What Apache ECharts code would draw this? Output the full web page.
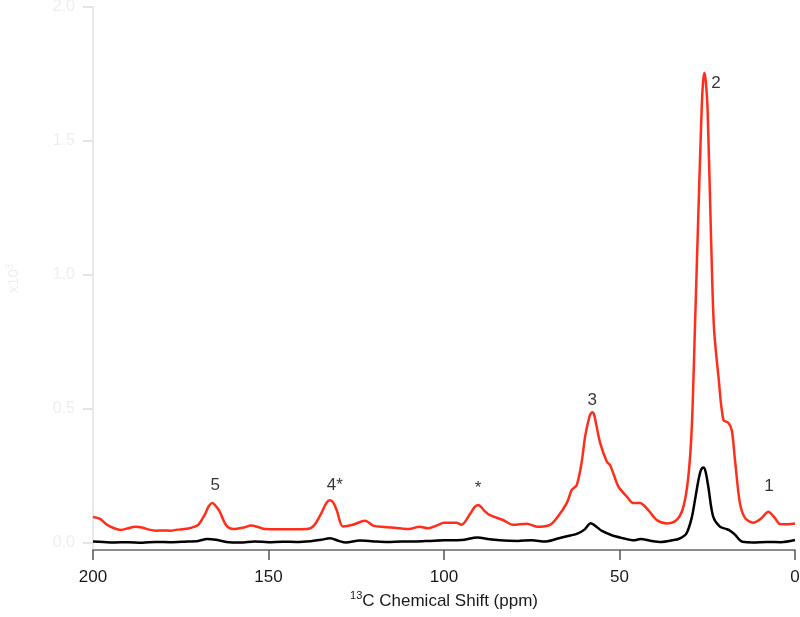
<!DOCTYPE html>
<html>
<head>
<meta charset="utf-8">
<script src="https://cdn.jsdelivr.net/npm/echarts@6/dist/echarts.min.js"></script>
<style>
  html, body { margin: 0; padding: 0; background: #fff; }
  #chart { width: 800px; height: 617px; }
</style>
</head>
<body>
<div id="chart"></div>
<script>
// chemical shift (ppm) and intensity (x10^3) for the red spectrum
var redShift = [200, 198, 196, 194, 192, 190, 188, 186, 184, 182, 180, 178, 176, 174, 172, 170, 168, 167, 166, 165, 164, 162,
    160, 157, 155, 153, 151, 147, 143, 139, 137, 135, 133.5, 132.5, 131.5, 130.5, 128.8, 126, 122.5, 120, 117, 115, 112, 110,
    107, 104.5, 102, 100, 96.5, 95, 92.5, 91.3, 90.3, 89.3, 88.5, 86.9, 83.2, 80.3, 76.4, 73.5, 69.8, 67.5, 65, 63.6, 62.2, 60.8,
    59.8, 58.6, 58.2, 57.7, 57.2, 56.6, 55.5, 53.6, 52.7, 51.5, 50.3, 47.9, 46.1, 44.2, 41.8, 39.4, 36.5, 33.7, 31.8, 30.4, 29.4, 28.5,
    27.5, 26.6, 26.2, 25.8, 25.4, 24.9, 24.0, 23.1, 21.8, 20.4, 19.0, 18.0, 17.1, 15.7, 14.2, 11.9, 9.5, 8.3, 7.6, 6.9, 5.7, 4.3, 2, 0];
var redIntensity = [0.097, 0.090, 0.068, 0.055, 0.049, 0.055, 0.061, 0.058, 0.050, 0.046, 0.047, 0.046, 0.050, 0.052, 0.057, 0.068, 0.110, 0.138, 0.149, 0.138, 0.120, 0.065,
    0.052, 0.058, 0.065, 0.060, 0.052, 0.051, 0.051, 0.052, 0.066, 0.110, 0.150, 0.160, 0.150, 0.120, 0.062, 0.068, 0.083, 0.064, 0.060, 0.058, 0.054, 0.052,
    0.061, 0.055, 0.066, 0.076, 0.076, 0.068, 0.110, 0.134, 0.142, 0.133, 0.120, 0.104, 0.086, 0.068, 0.072, 0.061, 0.068, 0.100, 0.150, 0.198, 0.216, 0.300,
    0.397, 0.470, 0.483, 0.488, 0.478, 0.440, 0.373, 0.303, 0.291, 0.250, 0.210, 0.173, 0.149, 0.149, 0.123, 0.086, 0.073, 0.086, 0.135, 0.247, 0.434, 0.807,
    1.243, 1.616, 1.720, 1.755, 1.720, 1.616, 1.180, 0.807, 0.620, 0.459, 0.449, 0.420, 0.310, 0.149, 0.093, 0.076, 0.093, 0.111, 0.117, 0.111, 0.093, 0.071, 0.070, 0.073];

// black spectrum
var blackShift = [200, 197, 194, 190, 186, 182, 178, 174, 170, 167.5, 165, 162, 158, 154, 150, 146, 142, 138, 135, 132.5,
    130, 128, 124, 120, 116, 112, 108, 104, 100, 95, 90.5, 87, 83, 79, 75, 71, 67, 64, 62, 60,
    58.2, 56.5, 55, 52, 49, 46, 44, 41, 38, 35, 33, 31, 29.5, 28.5, 27.5, 26.8, 26.1, 25.5, 24.7, 23.3, 21.4, 19.5,
    18.5, 17.1, 15.8, 15, 12, 8, 4, 0];
var blackIntensity = [0.006, 0.004, 0.002, 0.003, 0.001, 0.004, 0.003, 0.005, 0.008, 0.015, 0.012, 0.004, 0.002, 0.006, 0.003, 0.005, 0.004, 0.007, 0.012, 0.018,
    0.008, 0.002, 0.009, 0.006, 0.004, 0.006, 0.006, 0.008, 0.010, 0.011, 0.021, 0.014, 0.009, 0.008, 0.010, 0.006, 0.019, 0.028, 0.035, 0.050,
    0.074, 0.060, 0.045, 0.028, 0.018, 0.010, 0.015, 0.008, 0.004, 0.010, 0.016, 0.034, 0.090, 0.160, 0.235, 0.272, 0.282, 0.268, 0.210, 0.098, 0.061, 0.052,
    0.046, 0.031, 0.012, 0.005, 0.002, 0.004, 0.003, 0.011];

// peak labels
var peakLabels = ['5', '4*', '*', '3', '2', '1'];
var peakLabelShift = [165.2, 131.1, 90.3, 57.8, 22.5, 7.4];
var peakLabelY = [0.216, 0.216, 0.205, 0.534, 1.716, 0.213];

var yTicks = [0, 0.5, 1.0, 1.5, 2.0];

function zip(xs, ys) {
    return xs.map(function (x, i) { return [x, ys[i]]; });
}

var myChart = echarts.init(document.getElementById('chart'));

var option = {
    backgroundColor: '#ffffff',
    animation: false,
    grid: { left: 93, right: 5, top: 7, bottom: 67, containLabel: false, outerBoundsMode: 'none' },
    xAxis: {
        type: 'value',
        inverse: true,
        min: 0,
        max: 200,
        interval: 50,
        name: '{sup|13}C Chemical Shift (ppm)',
        nameLocation: 'middle',
        nameGap: 38,
        nameTextStyle: {
            color: '#1a1a1a',
            fontSize: 17,
            fontFamily: 'Liberation Sans',
            rich: {
                sup: { fontSize: 11, fontFamily: 'Liberation Sans', color: '#1a1a1a', padding: [0, 0, 9, 0] }
            }
        },
        axisLine: { onZero: false, lineStyle: { color: '#666', width: 1.5 } },
        axisTick: { length: 10, lineStyle: { color: '#555', width: 1.5 } },
        axisLabel: { color: '#1a1a1a', fontSize: 17, fontFamily: 'Liberation Sans', margin: 19 },
        splitLine: { show: false }
    },
    yAxis: {
        type: 'value',
        position: 'left',
        min: -0.026,
        max: 2.0,
        name: '{a|x10}{sup|3}',
        nameLocation: 'middle',
        nameGap: 70,
        nameTextStyle: {
            color: '#eeeeee',
            fontSize: 15,
            fontFamily: 'Liberation Sans',
            rich: {
                a: { fontSize: 15, color: '#eeeeee', fontFamily: 'Liberation Sans' },
                sup: { fontSize: 10, color: '#eeeeee', fontFamily: 'Liberation Sans', padding: [0, 0, 8, 0] }
            }
        },
        axisLine: { show: true, onZero: false, lineStyle: { color: '#e2e2e2', width: 1.5 } },
        axisTick: { show: true, customValues: yTicks, length: 10, lineStyle: { color: '#dddddd', width: 1.5 } },
        axisLabel: {
            customValues: yTicks,
            color: '#eeeeee',
            fontSize: 16,
            fontFamily: 'Liberation Sans',
            margin: 18,
            formatter: function (v) { return v.toFixed(1); }
        },
        splitLine: { show: false }
    },
    series: [
        {
            name: 'red',
            type: 'line',
            data: zip(redShift, redIntensity),
            smooth: 0.3,
            showSymbol: false,
            lineStyle: { color: '#ff2d1a', width: 2.5 },
            z: 3
        },
        {
            name: 'black',
            type: 'line',
            data: zip(blackShift, blackIntensity),
            smooth: 0.3,
            showSymbol: false,
            lineStyle: { color: '#000000', width: 2.5 },
            z: 2
        },
        {
            name: 'labels',
            type: 'scatter',
            symbolSize: 0,
            data: peakLabels.map(function (t, i) {
                return { name: t, value: [peakLabelShift[i], peakLabelY[i]] };
            }),
            label: {
                show: true,
                position: 'inside',
                formatter: '{b}',
                color: '#000',
                fontSize: 17,
                fontFamily: 'Liberation Sans'
            },
            silent: true,
            z: 4
        }
    ]
};

myChart.setOption(option);
</script>
</body>
</html>
